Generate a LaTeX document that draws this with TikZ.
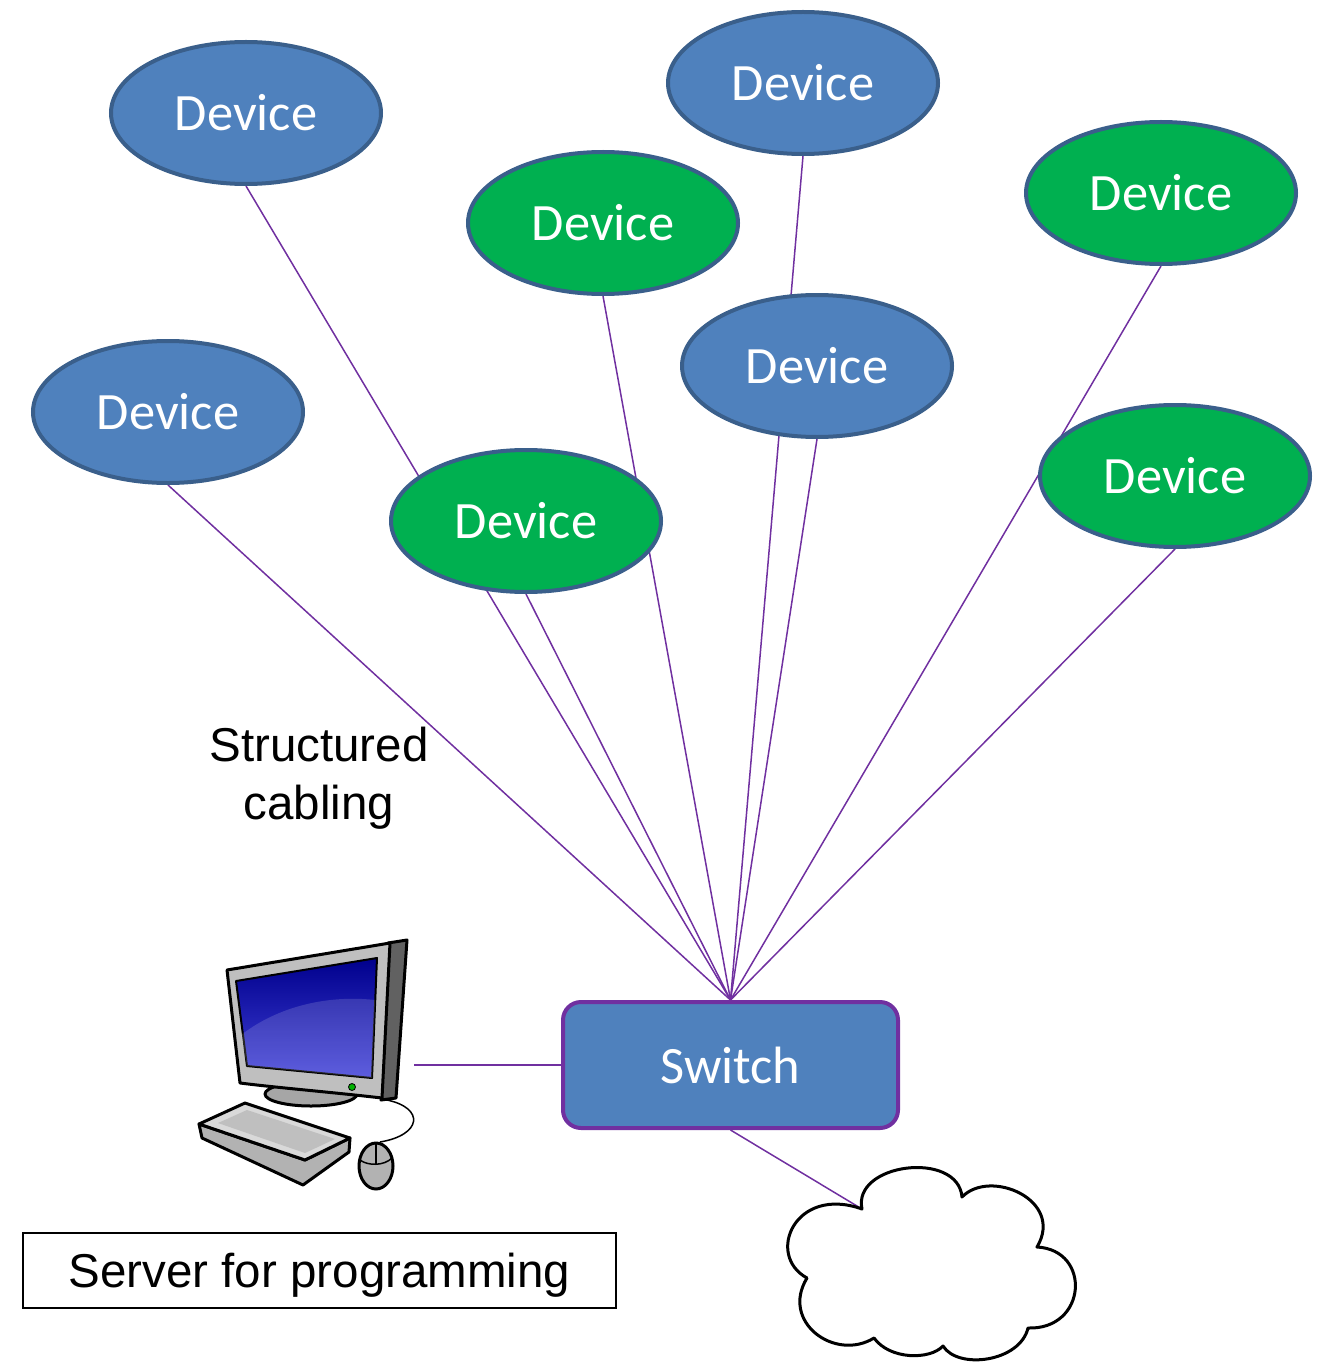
\documentclass[tikz,border=0pt]{standalone}
\usepackage{fontspec}
\setmainfont{Carlito}
\newfontfamily\labelfont{Liberation Sans}
\usetikzlibrary{shapes.geometric,backgrounds}
\definecolor{devblue}{HTML}{4F81BD}
\definecolor{devgreen}{HTML}{00B050}
\definecolor{edgeblue}{HTML}{3A5F8B}
\definecolor{wirepurple}{HTML}{7030A0}
\begin{document}
\begin{tikzpicture}[x=1pt,y=-1pt,
  device/.style={ellipse, draw=edgeblue, line width=4pt, minimum width=270pt,
    minimum height=142pt, inner sep=0pt, text=white,
    font=\fontsize{52.5}{62}\selectfont},
  bluedev/.style={device, fill=devblue},
  greendev/.style={device, fill=devgreen},
  wire/.style={draw=wirepurple, line width=1.5pt},
  blackedge/.style={draw=black, line width=3pt, line join=round},
  caption/.style={font=\labelfont\fontsize{47.5}{58}\selectfont}]
\useasboundingbox (0,0) rectangle (1326,1364);

% devices
\node[bluedev]  (d1) at (246,113) {Device};
\node[bluedev]  (d2) at (803,83)  {Device};
\node[greendev] (d3) at (603,223) {Device};
\node[greendev] (d4) at (1161,193) {Device};
\node[bluedev]  (d5) at (817,366) {Device};
\node[bluedev]  (d6) at (168,412) {Device};
\node[greendev] (d7) at (526,521) {Device};
\node[greendev] (d8) at (1175,476) {Device};

% switch
\node[draw=wirepurple, line width=4pt, fill=devblue, rounded corners=18pt,
  minimum width=335pt, minimum height=126pt, text=white,
  font=\fontsize{52.5}{62}\selectfont] (sw) at (730.5,1065) {Switch};

% cabling to the switch, behind the devices
\begin{scope}[on background layer]
  \foreach \d in {d1,d2,d3,d4,d5,d6,d7,d8}
    \draw[wire] (\d.south) -- (sw.north);
\end{scope}

\node[caption, align=center] (lbl) at (319,778) {Structured\\cabling};

% computer and its link
\coordinate (pc) at (414,1065);
\draw[wire] (pc) -- (sw.west);

% monitor stand
\draw[blackedge, fill=gray!70] (311,1094) ellipse [x radius=46, y radius=12];
% monitor side
\draw[blackedge, fill=black!62] (388,943) -- (407,940) -- (396,1098) -- (381,1100) -- cycle;
% monitor bezel
\draw[blackedge, fill=black!25] (227,970) -- (390,943) -- (382,1098)
  .. controls (330,1092) and (280,1088) .. (240,1083) -- cycle;
% screen
\shade[top color=blue!55!black, bottom color=blue!70!white!85!black, draw=black, line width=2pt, line join=round]
  (236,981) -- (377,958) -- (372,1078) -- (247,1066) -- cycle;
\fill[white, opacity=0.15] (241,1035) .. controls (280,1005) and (330,995) .. (375,1000)
  -- (372,1078) -- (247,1066) -- cycle;
% power light
\draw[fill=green!70!black, line width=0.8pt] (352,1087) circle [radius=3.5];

% mouse cable
\draw[black, line width=1.5pt] (387,1100) .. controls (425,1108) and (422,1135) .. (380,1142);
% keyboard
\draw[blackedge, fill=black!30] (199,1124) -- (202,1138) -- (303,1185) -- (349,1152)
  -- (350,1138) -- (305,1160) -- cycle;
\draw[blackedge, fill=black!15] (199,1124) -- (245,1103) -- (350,1138) -- (305,1160) -- cycle;
\fill[black!25] (218,1123) -- (247,1110) -- (335,1139) -- (305,1153) -- cycle;
% mouse
\draw[blackedge, fill=black!30] (376,1166) ellipse [x radius=17, y radius=23];
\draw[black, line width=1.5pt] (360,1160) .. controls (368,1166) and (384,1166) .. (392,1158);
\draw[black, line width=1.5pt] (376,1144) -- (376,1164);

% server caption
\node[caption, draw, line width=2pt, minimum width=593pt, minimum height=75pt,
  inner sep=0pt, text depth=0pt] (srv) at (319.5,1270.5) {Server for programming};

% uplink to the cloud
\coordinate (cl) at (862,1209);
\draw[wire] (sw.south) -- (cl);
\draw[blackedge, fill=white]
  (cl) .. controls (852,1163) and (958,1150) .. (962,1197)
  .. controls (990,1168) and (1065,1200) .. (1037,1247)
  .. controls (1092,1250) and (1087,1330) .. (1028,1328)
  .. controls (1020,1362) and (958,1370) .. (943,1346)
  .. controls (930,1360) and (890,1360) .. (874,1338)
  .. controls (835,1362) and (780,1322) .. (807,1278)
  .. controls (765,1255) and (795,1185) .. (cl) -- cycle;
\end{tikzpicture}
\end{document}
